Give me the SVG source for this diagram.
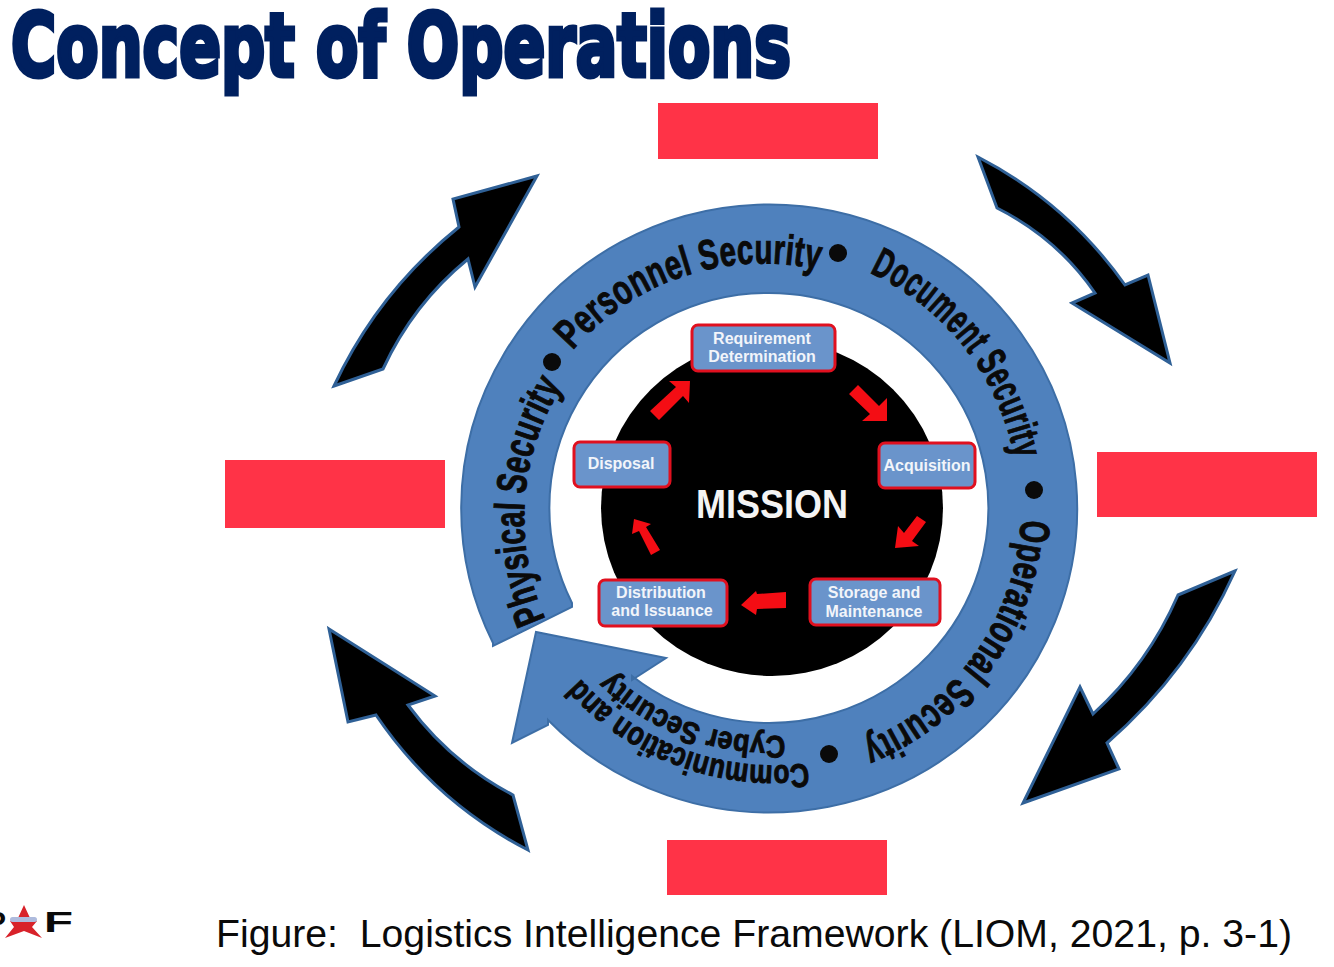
<svg xmlns="http://www.w3.org/2000/svg" width="1334" height="967" viewBox="0 0 1334 967">
<style>
.ph{fill:#ff3347}
.blk{fill:#000;stroke:#2f6096;stroke-width:3;stroke-linejoin:miter}
.rt{font-family:"Liberation Sans",Arial,sans-serif;font-weight:bold;fill:#0a0a0a;stroke:#0a0a0a;stroke-width:1}
.box{fill:#6a94cb;stroke:#e0101f;stroke-width:3}
.bt{font-family:"Liberation Sans",Arial,sans-serif;font-weight:bold;font-size:16px;fill:#f2f5fa;text-anchor:middle}
.ra{fill:#f40d14}
.dot{fill:#0a0a0a}
</style>
<defs>
<path id="pPhys" d="M551 617A244 244 0 0 1 987 399A244 244 0 0 1 551 617"/>
<path id="pPers" d="M577 354.500A246 246 0 0 1 961 661.500A246 246 0 0 1 577 354.500"/>
<path id="pDoc" d="M865 281.600A246 246 0 0 1 673 734.400A246 246 0 0 1 865 281.600"/>
<path id="pOp" d="M1015 519A246 246 0 0 1 523 497A246 246 0 0 1 1015 519"/>
<path id="pCom" d="M808 763A258 258 0 0 1 730 253A258 258 0 0 1 808 763"/>
<path id="pCyb" d="M785 735.500A228 228 0 0 1 753 280.500A228 228 0 0 1 785 735.500"/>
</defs>
<rect width="1334" height="967" fill="#fff"/>
<text id="title" x="11" y="76" font-family="'DejaVu Sans','Liberation Sans',sans-serif" font-weight="bold" font-size="87" fill="#00205f" stroke="#00205f" stroke-width="5" textLength="780" lengthAdjust="spacingAndGlyphs">Concept of Operations</text>
<g id="ph-top"><rect class="ph" x="658" y="103" width="220" height="56"/></g>
<g id="ph-left"><rect class="ph" x="225" y="460" width="220" height="68"/></g>
<g id="ph-right"><rect class="ph" x="1097" y="452" width="220" height="65"/></g>
<g id="ph-bottom"><rect class="ph" x="667" y="840" width="220" height="55"/></g>
<g id="connectors">
<path class="blk" d="M334 386L383 369Q413 304 468 259L475 287L537 176L453 199L459 227Q378 292 334 386Z"/>
<path class="blk" d="M978 157L997 208Q1057 238 1095 293L1072 303L1170 363L1148 275L1125 285Q1067 203 978 157Z"/>
<path class="blk" d="M1235 571L1178 595Q1148 664 1093 714L1080 687L1023 803L1119 769L1107 743Q1190 671 1235 571Z"/>
<path class="blk" d="M329 629L435 696L408 705Q450 762 513 795L528 850Q435 802 376 715L348 722Z"/>
</g>
<g id="ring">
<path fill="#4f81bd" stroke="#3d6ea6" stroke-width="2" d="M493 646L493 643A308 304 0 1 1 548 720L548 725L512 743L536 632L666 658L632 680L632 676A219.500 215 0 1 0 572 603L572 607Z"/>
<circle class="dot" cx="552" cy="362" r="9"/>
<circle class="dot" cx="838" cy="253" r="9"/>
<circle class="dot" cx="1034" cy="490" r="9"/>
<circle class="dot" cx="829" cy="754" r="9"/>
<text class="rt" font-size="42" dy="-6"><textPath href="#pPhys" textLength="238" lengthAdjust="spacingAndGlyphs">Physical Security</textPath></text>
<text class="rt" font-size="42" dy="-6"><textPath href="#pPers" textLength="266" lengthAdjust="spacingAndGlyphs">Personnel Security</textPath></text>
<text class="rt" font-size="42" dy="-10"><textPath href="#pDoc" textLength="236" lengthAdjust="spacingAndGlyphs">Document Security</textPath></text>
<text class="rt" font-size="42" dy="-6"><textPath href="#pOp" textLength="283" lengthAdjust="spacingAndGlyphs">Operational Security</textPath></text>
<text class="rt" font-size="33"><textPath href="#pCom" textLength="253" lengthAdjust="spacingAndGlyphs">Communication and</textPath></text>
<text class="rt" font-size="31"><textPath href="#pCyb" textLength="191" lengthAdjust="spacingAndGlyphs">Cyber Security</textPath></text>
</g>
<g id="mission">
<ellipse cx="772" cy="508" rx="171" ry="168" fill="#000"/>
<text x="772" y="518" font-family="'Liberation Sans',sans-serif" font-weight="bold" font-size="41" fill="#f4f4f4" text-anchor="middle" textLength="152" lengthAdjust="spacingAndGlyphs">MISSION</text>
</g>
<g id="red-arrows">
<polygon class="ra" points="650,411 676,387 669,381 690,381 689,403 683,396 659,420"/>
<polygon class="ra" points="858,385 879,406 887,398 887,421 862,421 870,414 849,394"/>
<polygon class="ra" points="917,516 926,522 912,541 919,546 895,548 898,526 904,533"/>
<polygon class="ra" points="660,550 651,555 639,531 632,534 634,519 651,524 646,527"/>
<polygon class="ra" points="786,592 786,608 757,609 756,615 741,605 756,591 757,594"/>
</g>
<g id="n-req"><rect class="box" x="692" y="325" width="143" height="46" rx="6"/><text class="bt" x="762" y="344">Requirement</text><text class="bt" x="762" y="362">Determination</text></g>
<g id="n-disp"><rect class="box" x="574" y="442" width="96" height="45" rx="6"/><text class="bt" x="621" y="469">Disposal</text></g>
<g id="n-acq"><rect class="box" x="879" y="443" width="96" height="45" rx="6"/><text class="bt" x="927" y="471">Acquisition</text></g>
<g id="n-dist"><rect class="box" x="599" y="580" width="128" height="46" rx="6"/><text class="bt" x="661" y="598">Distribution</text><text class="bt" x="662" y="616">and  Issuance</text></g>
<g id="n-stor"><rect class="box" x="810" y="579" width="130" height="46" rx="6"/><text class="bt" x="874" y="598">Storage and</text><text class="bt" x="874" y="617">Maintenance</text></g>
<g id="logo">
<text x="-14" y="932" font-family="'Liberation Sans',sans-serif" font-weight="bold" font-size="30" fill="#0a0a0a">P</text>
<polygon points="24,905 30,918 37,921 32,927 42,938 24,931 5,938 14,927 10,921 18,918" fill="#d8222a"/>
<rect x="10" y="917" width="27" height="5" rx="2.500" fill="#aebbdd"/>
<text x="44" y="932" font-family="'Liberation Sans',sans-serif" font-weight="bold" font-size="30" fill="#0a0a0a" textLength="29" lengthAdjust="spacingAndGlyphs">F</text>
</g>
<text id="caption" x="216" y="947" xml:space="preserve" font-family="'Liberation Sans',Arial,sans-serif" font-size="39" fill="#0a0a0a" textLength="1076" lengthAdjust="spacingAndGlyphs">Figure:  Logistics Intelligence Framework (LIOM, 2021, p. 3-1)</text>
</svg>
